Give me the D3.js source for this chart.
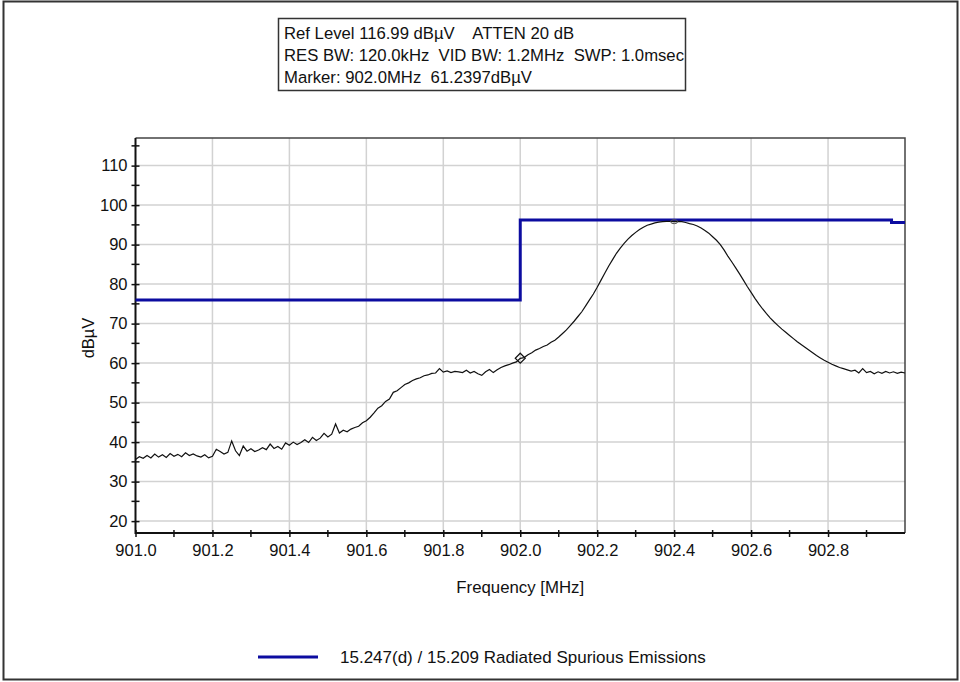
<!DOCTYPE html>
<html><head><meta charset="utf-8">
<script src="https://cdn.jsdelivr.net/npm/d3@7"></script>
<style>
body{margin:0;background:#fff}
svg{display:block}
text{font-family:"Liberation Sans",Arial,sans-serif;fill:#111}
</style>
</head><body><svg id="c" width="960" height="682"></svg>
<script>
const infoLines = [
  "Ref Level 116.99 dBµV    ATTEN 20 dB",
  "RES BW: 120.0kHz  VID BW: 1.2MHz  SWP: 1.0msec",
  "Marker: 902.0MHz  61.2397dBµV"
];
const xTickValues = [901.0, 901.2, 901.4, 901.6, 901.8, 902.0, 902.2, 902.4, 902.6, 902.8];
const xTickLabels = ["901.0","901.2","901.4","901.6","901.8","902.0","902.2","902.4","902.6","902.8"];
const xMinorTicks = [901.1, 901.3, 901.5, 901.7, 901.9, 902.1, 902.3, 902.5, 902.7, 902.9];
const yTickValues = [20, 30, 40, 50, 60, 70, 80, 90, 100, 110];
const yMinorTicks = [25, 35, 45, 55, 65, 75, 85, 95, 105, 115];
const xDomain = [901.0, 903.0];
const yDomain = [16.99, 116.99];
const sweepStart = 901.0, sweepStep = 0.01;
const traceValues = [
  35.6, 36.3, 35.9, 36.6, 36.0, 37.0, 36.2, 36.8, 36.1, 37.1,
  36.4, 36.9, 36.3, 37.3, 36.6, 37.0, 36.5, 36.2, 36.8, 36.0,
  36.4, 38.2, 37.6, 37.0, 37.4, 40.3, 37.8, 36.6, 39.0, 37.7,
  38.3, 37.6, 38.0, 38.6, 38.1, 39.5, 38.4, 38.9, 38.2, 39.8,
  39.2, 40.0, 39.4, 39.9, 40.6, 39.9, 41.2, 40.4, 41.0, 42.2,
  41.3, 42.0, 44.6, 42.3, 43.0, 42.6, 43.3, 43.7, 44.0, 44.9,
  45.4, 46.3, 47.4, 48.6, 49.2, 50.3, 50.9, 52.6, 53.0, 53.8,
  54.6, 55.0, 55.6, 56.0, 56.3, 56.8, 57.0, 57.4, 57.5, 58.6,
  57.7, 58.0, 57.6, 57.9, 57.8, 57.6, 58.2, 57.5, 57.9, 57.3,
  56.9, 57.8, 58.4, 57.6, 58.3, 58.9, 59.3, 59.6, 60.0, 60.3,
  61.2, 61.4, 62.1, 62.6, 63.3, 63.7, 64.2, 64.6, 65.3, 65.8,
  66.6, 67.5, 68.4, 69.5, 70.6, 71.8, 73.0, 74.5, 76.0, 77.5,
  79.2, 81.0, 82.8, 84.6, 86.2, 87.8, 89.1, 90.3, 91.4, 92.3,
  93.1, 93.8, 94.4, 94.9, 95.2, 95.5, 95.7, 95.8, 95.9, 95.9,
  95.8, 95.9, 95.8, 95.6, 95.3, 95.1, 94.7, 94.2, 93.6, 92.9,
  92.0, 91.1, 90.0, 88.6, 87.0, 85.6, 84.1, 82.6, 81.0, 79.4,
  77.9, 76.4, 75.0, 73.7, 72.5, 71.4, 70.4, 69.5, 68.6, 67.8,
  67.0, 66.2, 65.4, 64.7, 64.0, 63.3, 62.6, 61.9, 61.3, 60.7,
  60.2, 59.7, 59.3, 58.9, 58.6, 58.3, 58.0, 58.2, 57.5, 58.6,
  57.6, 57.9, 57.3, 57.8, 57.4, 57.9, 57.5, 57.8, 57.4, 57.7,
  57.5
];
const limitFreqs  = [901.0, 902.0, 902.0, 902.965, 902.965, 903.0];
const limitValues = [76.0, 76.0, 96.2, 96.2, 95.6, 95.6];
const markerFreq = 902.0, markerValue = 61.2397;
const peakFreq = 902.4, peakValue = 95.8;
const legendLabel = "15.247(d) / 15.209 Radiated Spurious Emissions";
const xLabel = "Frequency [MHz]";
const yLabel = "dBµV";

const svg = d3.select("#c");
const plot = {left: 135.5, right: 905, top: 138, bottom: 533};
const x = d3.scaleLinear().domain(xDomain).range([plot.left, plot.right]);
const y = d3.scaleLinear().domain(yDomain).range([plot.bottom, plot.top]);

// outer frame
svg.append("rect").attr("x", 3.5).attr("y", 1.5).attr("width", 954).attr("height", 678)
  .attr("fill", "#fff").attr("stroke", "#333").attr("stroke-width", 2);

// info box
const ib = svg.append("g");
ib.append("rect").attr("x", 278.5).attr("y", 18.5).attr("width", 407).attr("height", 72)
  .attr("fill", "#fff").attr("stroke", "#333").attr("stroke-width", 1.5);
ib.selectAll("text.info").data(infoLines).join("text").attr("class", "info")
  .attr("x", 284).attr("y", (d, i) => 33 + i * 22).attr("dy", "0.35em")
  .style("white-space", "pre").attr("xml:space", "preserve")
  .attr("font-size", "16.7px").text(d => d);

// grid
const grid = svg.append("g");
grid.selectAll("line.gx").data(xTickValues.filter(v => v > xDomain[0])).join("line")
  .attr("x1", d => x(d)).attr("x2", d => x(d)).attr("y1", plot.top).attr("y2", plot.bottom)
  .attr("stroke", "#d2d2d2").attr("stroke-width", 1.5);
grid.selectAll("line.gy").data(yTickValues).join("line")
  .attr("y1", d => y(d)).attr("y2", d => y(d)).attr("x1", plot.left).attr("x2", plot.right)
  .attr("stroke", "#d2d2d2").attr("stroke-width", 1.5);

// plot border top/right
svg.append("path")
  .attr("d", `M${plot.left},${plot.top}H${plot.right}V${plot.bottom}`)
  .attr("fill", "none").attr("stroke", "#444").attr("stroke-width", 1.5);

// axes
const yAxis = d3.axisLeft(y).tickValues(yTickValues).tickSize(4).tickPadding(4).tickFormat(d3.format("d"));
const gy = svg.append("g").attr("transform", `translate(${plot.left},0)`).call(yAxis);
gy.select(".domain").remove();
gy.selectAll(".tick line").attr("x2", -4).attr("x1", 4).attr("stroke", "#111").attr("stroke-width", 1.5);
gy.selectAll(".tick text").attr("font-size", "16.5px").attr("x", -8)
  .style("font-family", '"Liberation Sans",Arial,sans-serif').attr("fill", "#111");
gy.selectAll("line.minor").data(yMinorTicks).join("line").attr("class", "minor")
  .attr("x1", -4).attr("x2", 4).attr("y1", d => y(d)).attr("y2", d => y(d))
  .attr("stroke", "#111").attr("stroke-width", 1.5);

const xAxis = d3.axisBottom(x).tickValues(xTickValues).tickSize(3).tickPadding(6)
  .tickFormat((d, i) => xTickLabels[i]);
const gx = svg.append("g").attr("transform", `translate(0,${plot.bottom})`).call(xAxis);
gx.select(".domain").remove();
gx.selectAll(".tick line").attr("y1", -3).attr("y2", 4).attr("stroke", "#111").attr("stroke-width", 1.5);
gx.selectAll(".tick text").attr("font-size", "16.5px").attr("y", 11)
  .style("font-family", '"Liberation Sans",Arial,sans-serif').attr("fill", "#111");
gx.selectAll("line.minor").data(xMinorTicks).join("line").attr("class", "minor")
  .attr("x1", d => x(d)).attr("x2", d => x(d)).attr("y1", -3).attr("y2", 4)
  .attr("stroke", "#111").attr("stroke-width", 1.5);

// axis lines
svg.append("path").attr("d", `M${plot.left},${plot.top}V${plot.bottom}H${plot.right}`)
  .attr("fill", "none").attr("stroke", "#111").attr("stroke-width", 2);

// limit line
const limitData = limitFreqs.map((f, i) => [f, limitValues[i]]);
svg.append("path").datum(limitData)
  .attr("d", d3.line().x(d => x(d[0])).y(d => y(d[1])))
  .attr("fill", "none").attr("stroke", "#0c0ca0").attr("stroke-width", 3);

// trace
const traceData = traceValues.map((v, i) => [sweepStart + i * sweepStep, v]);
svg.append("path").datum(traceData)
  .attr("d", d3.line().x(d => x(d[0])).y(d => y(d[1])))
  .attr("fill", "none").attr("stroke", "#111").attr("stroke-width", 1.2);

// markers
const mx = x(markerFreq), my = y(markerValue);
svg.append("path").attr("d", `M${mx},${my - 5}L${mx + 5},${my}L${mx},${my + 5}L${mx - 5},${my}Z`)
  .attr("fill", "none").attr("stroke", "#111").attr("stroke-width", 1.2);
svg.append("ellipse").attr("cx", x(peakFreq)).attr("cy", y(peakValue)).attr("rx", 3.5).attr("ry", 2)
  .attr("fill", "none").attr("stroke", "#555").attr("stroke-width", 1);

// axis titles
svg.append("text").attr("x", (plot.left + plot.right) / 2).attr("y", 587).attr("dy", "0.35em")
  .attr("text-anchor", "middle").attr("font-size", "16.8px").text(xLabel);
svg.append("text").attr("transform", "translate(88,338) rotate(-90)").attr("dy", "0.35em")
  .attr("text-anchor", "middle").attr("font-size", "16.5px").text(yLabel);

// legend
svg.append("line").attr("x1", 258).attr("x2", 318).attr("y1", 657).attr("y2", 657)
  .attr("stroke", "#0c0ca0").attr("stroke-width", 3);
svg.append("text").attr("x", 340).attr("y", 657).attr("dy", "0.35em")
  .attr("font-size", "17px").text(legendLabel);
</script>
</body></html>
